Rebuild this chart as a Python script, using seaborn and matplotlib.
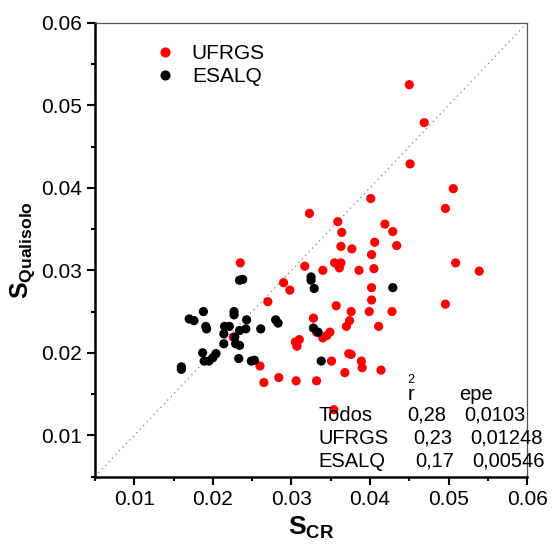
import pandas as pd
import matplotlib
matplotlib.use('Agg')
import matplotlib.pyplot as plt
import seaborn as sns
from matplotlib.ticker import MultipleLocator

# Values
ufrgs_scr = [0.0450, 0.0469, 0.0451, 0.0506, 0.0496, 0.0401, 0.0323, 0.0359, 0.0419, 0.0429,
             0.0364, 0.0406, 0.0434, 0.0363, 0.0377, 0.0402, 0.0235, 0.0355, 0.0363, 0.0317,
             0.0361, 0.0340, 0.0386, 0.0405, 0.0509, 0.0539, 0.0290, 0.0298, 0.0402, 0.0402,
             0.0270, 0.0357, 0.0496, 0.0376, 0.0399, 0.0428, 0.0328, 0.0374, 0.0370, 0.0411,
             0.0332, 0.0349, 0.0345, 0.0340, 0.0310, 0.0305, 0.0307, 0.0226, 0.0373, 0.0376,
             0.0351, 0.0389, 0.0390, 0.0260, 0.0414, 0.0368, 0.0284, 0.0265, 0.0306, 0.0332,
             0.0354]
ufrgs_qual = [0.0525, 0.0479, 0.0429, 0.0399, 0.0375, 0.0387, 0.0369, 0.0359, 0.0356, 0.0347,
              0.0346, 0.0334, 0.0330, 0.0329, 0.0326, 0.0319, 0.0309, 0.0309, 0.0309, 0.0305,
              0.0303, 0.0300, 0.0300, 0.0302, 0.0309, 0.0299, 0.0285, 0.0276, 0.0279, 0.0264,
              0.0262, 0.0257, 0.0259, 0.0250, 0.0250, 0.0250, 0.0242, 0.0239, 0.0232, 0.0232,
              0.0225, 0.0225, 0.0221, 0.0218, 0.0216, 0.0213, 0.0208, 0.0219, 0.0199, 0.0198,
              0.0190, 0.0190, 0.0182, 0.0184, 0.0179, 0.0176, 0.0170, 0.0164, 0.0166, 0.0166,
              0.0131]

esalq_scr = [0.0234, 0.0238, 0.0325, 0.0325, 0.0329, 0.0429, 0.0188, 0.0170, 0.0176, 0.0191,
             0.0192, 0.0227, 0.0227, 0.0243, 0.0215, 0.0221, 0.0234, 0.0242, 0.0261, 0.0280,
             0.0283, 0.0328, 0.0334, 0.0214, 0.0214, 0.0228, 0.0229, 0.0234, 0.0187, 0.0189,
             0.0195, 0.0200, 0.0204, 0.0233, 0.0249, 0.0253, 0.0160, 0.0160, 0.0338]
esalq_qual = [0.0288, 0.0289, 0.0292, 0.0288, 0.0278, 0.0279, 0.0250, 0.0241, 0.0239, 0.0232,
              0.0229, 0.0250, 0.0246, 0.0240, 0.0232, 0.0232, 0.0227, 0.0229, 0.0229, 0.0240,
              0.0236, 0.0230, 0.0225, 0.0223, 0.0211, 0.0219, 0.0211, 0.0209, 0.0200, 0.0190,
              0.0190, 0.0194, 0.0199, 0.0193, 0.0190, 0.0191, 0.0183, 0.0180, 0.0190]

groups = ['UFRGS', 'ESALQ']
colors = {'UFRGS': 'red', 'ESALQ': 'black'}

stat_rows = ['Todos', 'UFRGS', 'ESALQ']
stat_r2 = ['0,28', '0,23', '0,17']
stat_epe = ['0,0103', '0,01248', '0,00546']

df = pd.concat([
    pd.DataFrame({'scr': ufrgs_scr, 'qual': ufrgs_qual, 'grupo': 'UFRGS'}),
    pd.DataFrame({'scr': esalq_scr, 'qual': esalq_qual, 'grupo': 'ESALQ'}),
], ignore_index=True)

sns.set_theme(style='ticks')
plt.rcParams['font.family'] = ['Liberation Sans', 'DejaVu Sans']
plt.rcParams['text.color'] = 'black'
plt.rcParams['axes.labelcolor'] = 'black'
plt.rcParams['xtick.color'] = 'black'
plt.rcParams['ytick.color'] = 'black'
plt.rcParams['mathtext.fontset'] = 'custom'
plt.rcParams['mathtext.rm'] = 'Liberation Sans'
plt.rcParams['mathtext.bf'] = 'Liberation Sans:bold'

fig = plt.figure(figsize=(5.52, 5.44), dpi=100)
ax = fig.add_axes([0.172, 0.124, 0.783, 0.834])

# 1:1 line
ax.plot([0.005, 0.06], [0.005, 0.06], linestyle=(0, (1, 3)), color='gray', lw=0.9, zorder=0)

sns.scatterplot(data=df, x='scr', y='qual', hue='grupo', hue_order=groups,
                palette=colors, s=44, linewidth=0, ax=ax)

ax.set_xlim(0.005, 0.06)
ax.set_ylim(0.005, 0.06)
ax.xaxis.set_minor_locator(MultipleLocator(0.005))
ax.yaxis.set_minor_locator(MultipleLocator(0.005))
ax.set_xticks([0.01, 0.02, 0.03, 0.04, 0.05, 0.06])
ax.set_yticks([0.01, 0.02, 0.03, 0.04, 0.05, 0.06])
ax.tick_params(which='major', direction='out', length=6, width=1.5, labelsize=15)
ax.tick_params(which='minor', direction='out', length=3, width=1.5)

for side in ['left', 'bottom']:
    ax.spines[side].set_linewidth(1.8)
    ax.spines[side].set_color('black')
for side in ['top', 'right']:
    ax.spines[side].set_linewidth(0.9)
    ax.spines[side].set_color('#555555')

ax.set_xlabel(r'$\mathbf{S}_{\mathbf{CR}}$', fontsize=19, labelpad=4)
ax.set_ylabel(r'$\mathbf{S}_{\mathbf{Qualisolo}}$', fontsize=18, labelpad=3)

leg = ax.legend(loc='upper left', bbox_to_anchor=(0.07, 0.995), frameon=False,
                fontsize=15, handletextpad=0.3, labelspacing=0.2, markerscale=1.1)

# statistics table
ax.text(0.04483, 0.01496, 'r', fontsize=14.5, va='center', ha='left')
ax.text(0.04470, 0.01665, '2', fontsize=9, va='center', ha='left')
ax.text(0.05135, 0.01496, 'epe', fontsize=14.5, va='center', ha='left')
row_y = [0.01244, 0.00962, 0.00685]
r2_x = [0.04474, 0.0455, 0.04582]
epe_x = [0.0520, 0.05279, 0.05301]
for name, r2, epe, y, xr, xe in zip(stat_rows, stat_r2, stat_epe, row_y, r2_x, epe_x):
    ax.text(0.03346, y, name, fontsize=14.5, va='center', ha='left')
    ax.text(xr, y, r2, fontsize=14.5, va='center', ha='left')
    ax.text(xe, y, epe, fontsize=14.5, va='center', ha='left')

fig.savefig('out.png', dpi=100)
